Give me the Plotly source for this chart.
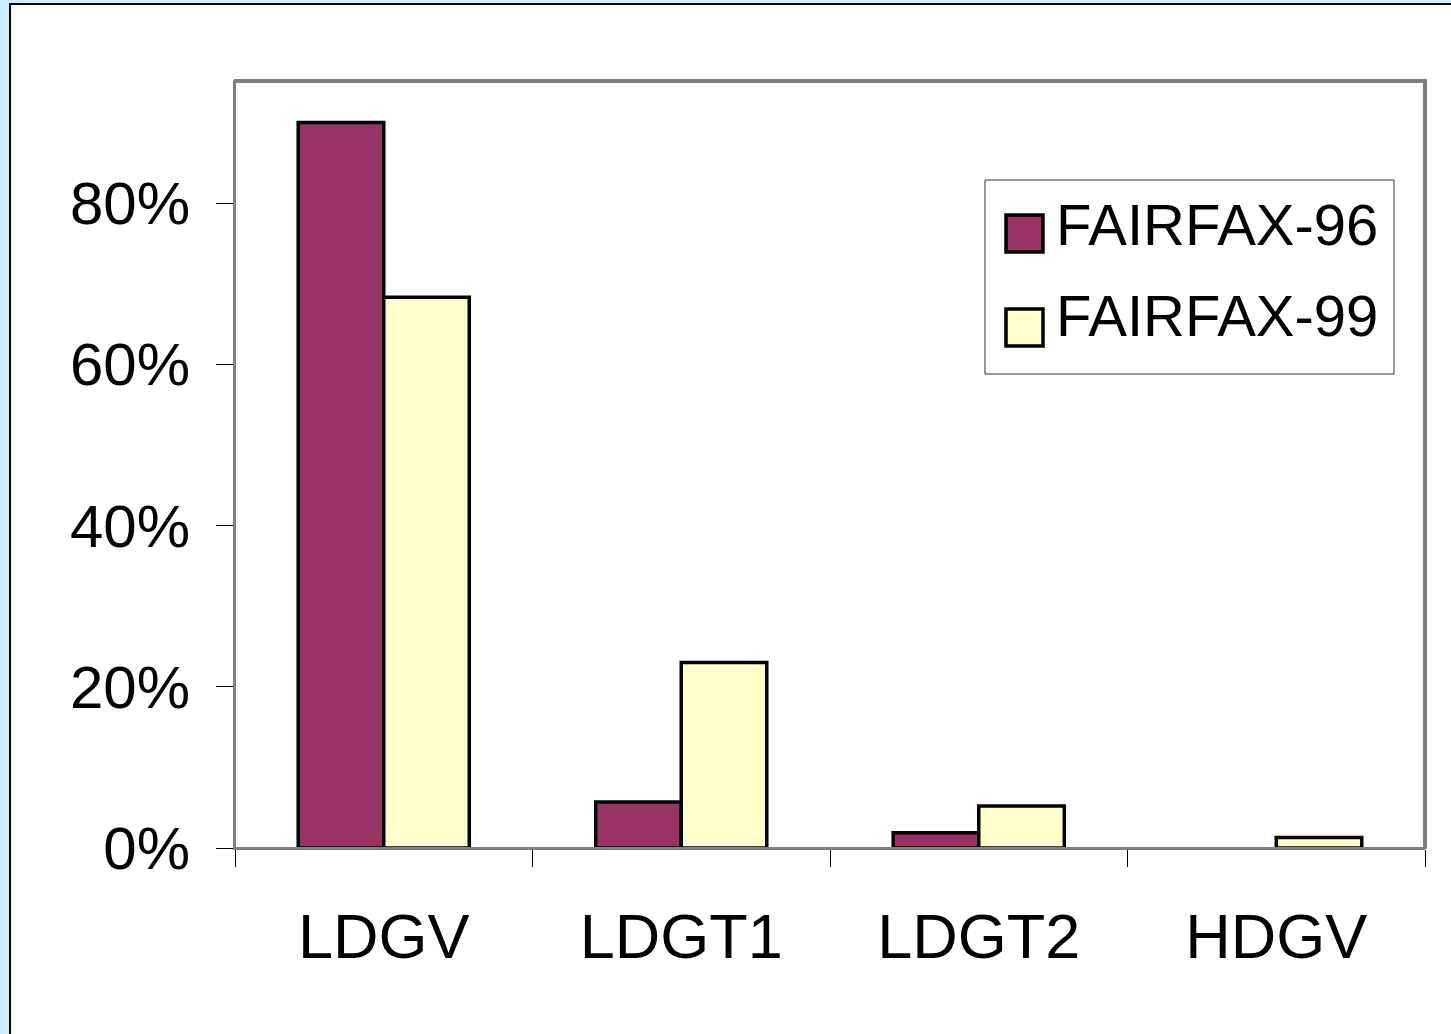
import plotly.graph_objects as go

categories = ["LDGV", "LDGT1", "LDGT2", "HDGV"]
fairfax_96 = [90.0, 5.7, 1.9, None]
fairfax_99 = [68.3, 23.0, 5.2, 1.3]
series_names = ["FAIRFAX-96", "FAIRFAX-99"]
series_colors = ["#993366", "#FFFFCC"]
y_tick_vals = [0, 20, 40, 60, 80]
y_tick_text = ["0%", "20%", "40%", "60%", "80%"]

W, H = 1451, 1034
L, R, T, B = 235, 26, 80, 186
pw, ph = W - L - R, H - T - B

def px(x):
    return (x - L) / pw

def py(y):
    return (H - B - y) / ph

FONT = "Liberation Sans, Arial, sans-serif"

fig = go.Figure()
for name, vals, col in zip(series_names, [fairfax_96, fairfax_99], series_colors):
    fig.add_trace(go.Bar(x=categories, y=vals, name=name, showlegend=False,
                         marker=dict(color=col, line=dict(color="black", width=3.5))))
# legend text entries (swatches drawn as larger squares below)
for i, name in enumerate(series_names):
    fig.add_trace(go.Scatter(x=[None], y=[None], mode="markers", name=name,
                             legendgroup="g%d" % i,
                             marker=dict(size=1, opacity=0, color=series_colors[i])))

shapes = [
    # white card with black border
    dict(type="rect", xref="paper", yref="paper", x0=px(10), x1=px(1480), y0=py(4), y1=py(1060),
         fillcolor="white", line=dict(color="black", width=2), layer="below"),
    # plot area border (grey, thicker top/right)
    dict(type="rect", xref="paper", yref="paper", x0=0, x1=1, y0=0, y1=1,
         line=dict(color="#808080", width=2), layer="above"),
    dict(type="line", xref="paper", yref="paper", x0=px(234), x1=px(1427), y0=py(81), y1=py(81),
         line=dict(color="#808080", width=4)),
    dict(type="line", xref="paper", yref="paper", x0=px(1425), x1=px(1425), y0=py(80), y1=py(849),
         line=dict(color="#808080", width=4)),
    # legend box
    dict(type="rect", xref="paper", yref="paper", x0=px(985), x1=px(1394), y0=py(180), y1=py(374),
         fillcolor="white", line=dict(color="#333333", width=1), layer="above"),
]
swatch_tops = [215, 309]
for top, col in zip(swatch_tops, series_colors):
    shapes.append(dict(type="rect", xref="paper", yref="paper",
                       x0=px(1006), x1=px(1043), y0=py(top), y1=py(top + 37),
                       fillcolor=col, line=dict(color="black", width=3.5), layer="above"))

fig.update_layout(
    width=W, height=H,
    margin=dict(l=L, r=R, t=T, b=B, pad=0),
    paper_bgcolor="#CCECFF",
    plot_bgcolor="rgba(0,0,0,0)",
    barmode="group",
    bargap=0.425,
    bargroupgap=0,
    font=dict(family=FONT, color="black"),
    shapes=shapes,
    showlegend=True,
    legend=dict(x=px(985), y=py(178), xanchor="left", yanchor="top",
                bgcolor="rgba(0,0,0,0)", borderwidth=0,
                itemwidth=61, traceorder="grouped", tracegroupgap=13,
                font=dict(size=58, family=FONT, color="black")),
)
fig.update_xaxes(
    showline=True, linecolor="#808080", linewidth=2,
    ticks="outside", tickson="boundaries", ticklen=17, tickcolor="black", tickwidth=1,
    tickfont=dict(size=63, family=FONT, color="black"),
    ticklabelstandoff=32, showgrid=False,
)
fig.update_yaxes(
    range=[0, 95.26], tickvals=y_tick_vals, ticktext=y_tick_text,
    showline=True, linecolor="#808080", linewidth=2,
    ticks="outside", ticklen=17, tickcolor="black", tickwidth=1,
    tickfont=dict(size=60, family=FONT, color="black"),
    ticklabelstandoff=14, showgrid=False, zeroline=False,
)

fig.write_html("out.html", config={"displayModeBar": False},
               post_script="document.body.style.margin='0px';")
